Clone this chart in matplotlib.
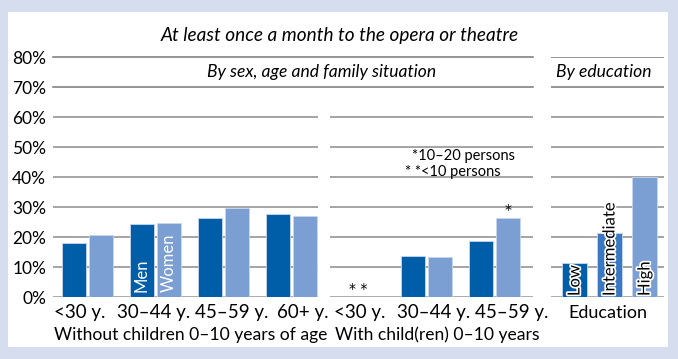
import numpy as np
import matplotlib
matplotlib.use('Agg')
import matplotlib.pyplot as plt
import matplotlib.patheffects as pe
from matplotlib.patches import Rectangle

plt.rcParams['font.family'] = ['Lato', 'DejaVu Sans']

# data (percent)
title = 'At least once a month to the opera or theatre'

groups_without = ['<30 y.', '30–44 y.', '45–59 y.', '60+ y.']
men_without = [18.1, 24.4, 26.4, 27.8]
women_without = [20.6, 24.7, 29.7, 26.9]

groups_with = ['<30 y.', '30–44 y.', '45–59 y.']
men_with = [np.nan, 13.8, 18.6]
women_with = [np.nan, 13.2, 26.3]

edu_labels = ['Low', 'Intermediate', 'High']
edu_values = [11.2, 21.2, 40.0]

yticks = [0, 10, 20, 30, 40, 50, 60, 70, 80]

# colours
DARK = '#005da8'
LIGHT = '#7b9ed3'
MID = '#3a78c2'
GRID = '#8c8c8c'

W, H = 678, 359
fig = plt.figure(figsize=(W / 100, H / 100), dpi=100)
fig.patch.set_facecolor('#d5ddee')
fig.patches.append(Rectangle((8 / W, (H - 347) / H), 660 / W, 335 / H,
                             transform=fig.transFigure, facecolor='white',
                             edgecolor='none', zorder=-5))


def px_axes(x0, x1, ytop=57, ybot=297):
    ax = fig.add_axes([x0 / W, (H - ybot) / H, (x1 - x0) / W, (ybot - ytop) / H])
    ax.set_facecolor('none')
    for s in ax.spines.values():
        s.set_visible(False)
    ax.set_ylim(0, 80)
    ax.set_yticks(yticks)
    ax.tick_params(axis='both', length=0, labelsize=13.5, colors='black')
    ax.tick_params(axis='x', pad=5)
    ax.tick_params(axis='y', labelleft=False)
    for y in yticks[1:7]:
        ax.axhline(y, color=GRID, lw=1.1, zorder=0)
    ax.axhline(0, color='#a3a3a3', lw=2, zorder=1)
    return ax


ax1 = px_axes(53, 318)
ax2 = px_axes(330, 533)
ax3 = px_axes(551, 664)

# top lines span panels 1 and 2 together
for y in (70, 80):
    ax1.axhline(y, xmin=0, xmax=(533 - 53) / (318 - 53), color='#777777',
                lw=1.1, clip_on=False, zorder=0)
    ax3.axhline(y, color='#777777', lw=1.1, zorder=0)

ax1.set_yticks(yticks, [f'{v}%' for v in yticks])
ax1.tick_params(axis='y', labelleft=True, pad=5, labelsize=12.5)

step = 68
off = 13.5 / step
bw = 24 / step
edge = dict(edgecolor='#c9d6ee', linewidth=0.6, zorder=2)

# panel 1: without children
x1 = np.arange(len(groups_without))
ax1.bar(x1 - off, men_without, bw, color=DARK, **edge)
ax1.bar(x1 + off, women_without, bw, color=LIGHT, **edge)
ax1.set_xlim(-34.5 / step, (265 - 34.5) / step)
# category labels are typeset as an evenly spaced line, not under bar centres
ax1.set_xticks([(p - 87.5) / step for p in (80, 154, 232, 303)], groups_without)
ax1.text(x1[1] - off, 1.5, 'Men', rotation=90, color='white', ha='center',
         va='bottom', fontsize=12, zorder=3)
ax1.text(x1[1] + off, 1.5, 'Women', rotation=90, color='white', ha='center',
         va='bottom', fontsize=12, zorder=3)
ax1.text(0.52, -0.158, 'Without children 0–10 years of age', transform=ax1.transAxes,
         ha='center', va='center', fontsize=12.6)

# panel 2: with children
x2 = np.arange(len(groups_with))
ax2.bar(x2 - off, men_with, bw, color=DARK, **edge)
ax2.bar(x2 + off, women_with, bw, color=LIGHT, **edge)
ax2.set_xlim(-28.5 / step, (203 - 28.5) / step)
ax2.set_xticks([(p - 358.5) / step for p in (360, 434, 512)], groups_with)
ax2.text(x2[0], 2.8, '* *', ha='center', va='center', fontsize=10, family='DejaVu Sans')
ax2.text(x2[2] + off, women_with[2] + 0.5, '*', ha='center', va='bottom', fontsize=10,
         family='DejaVu Sans')
ax2.text(0.53, -0.158, 'With child(ren) 0–10 years', transform=ax2.transAxes,
         ha='center', va='center', fontsize=12.6)

# panel 3: education
x3 = np.arange(len(edu_labels))
ax3.bar(x3, edu_values, 25 / 35, color=[DARK, MID, LIGHT], **edge)
ax3.set_xlim(-23.5 / 35, (113 - 23.5) / 35)
ax3.set_xticks([])
for xi, lab in zip(x3, edu_labels):
    ax3.text(xi, 0.3, lab, rotation=90, ha='center', va='bottom', fontsize=12,
             color='black', zorder=3,
             path_effects=[pe.withStroke(linewidth=2.5, foreground='white')])
ax3.text(0.5, -0.067, 'Education', transform=ax3.transAxes,
         ha='center', va='center', fontsize=13)

# headers and notes
fig.text(340 / W, 1 - 36 / H, title, style='italic', ha='center', va='center', fontsize=13.7)
fig.text(322 / W, 1 - 72 / H, 'By sex, age and family situation', style='italic',
         ha='center', va='center', fontsize=12.6)
fig.text(604 / W, 1 - 72 / H, 'By education', style='italic',
         ha='center', va='center', fontsize=12.6)
fig.text(412 / W, 1 - 156 / H, '*10–20 persons', ha='left', va='center', fontsize=10.5)
fig.text(405 / W, 1 - 172 / H, '* *<10 persons', ha='left', va='center', fontsize=10.5)

fig.savefig('out.png', dpi=100, facecolor=fig.get_facecolor())
